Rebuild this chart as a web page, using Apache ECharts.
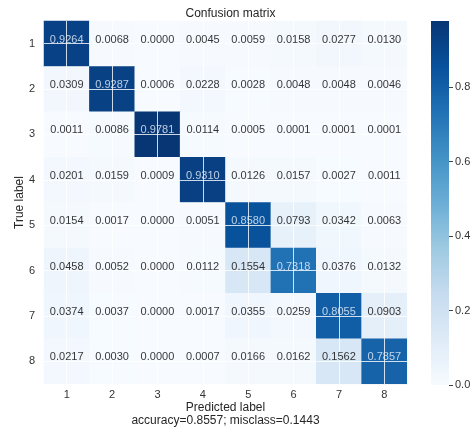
<!DOCTYPE html>
<html>
<head>
<meta charset="utf-8">
<script src="https://cdn.jsdelivr.net/npm/echarts@6/dist/echarts.min.js"></script>
<style>
  html, body { margin: 0; padding: 0; background: #fff; }
  #chart { width: 473px; height: 428px; }
</style>
</head>
<body>
<div id="chart"></div>
<script>
// class labels (predicted = x, true = y)
var categories = ["1", "2", "3", "4", "5", "6", "7", "8"];

// normalized confusion matrix rows (true label 1..8)
var row1 = [0.9264, 0.0068, 0.0000, 0.0045, 0.0059, 0.0158, 0.0277, 0.0130];
var row2 = [0.0309, 0.9287, 0.0006, 0.0228, 0.0028, 0.0048, 0.0048, 0.0046];
var row3 = [0.0011, 0.0086, 0.9781, 0.0114, 0.0005, 0.0001, 0.0001, 0.0001];
var row4 = [0.0201, 0.0159, 0.0009, 0.9310, 0.0126, 0.0157, 0.0027, 0.0011];
var row5 = [0.0154, 0.0017, 0.0000, 0.0051, 0.8580, 0.0793, 0.0342, 0.0063];
var row6 = [0.0458, 0.0052, 0.0000, 0.0112, 0.1554, 0.7318, 0.0376, 0.0132];
var row7 = [0.0374, 0.0037, 0.0000, 0.0017, 0.0355, 0.0259, 0.8055, 0.0903];
var row8 = [0.0217, 0.0030, 0.0000, 0.0007, 0.0166, 0.0162, 0.1562, 0.7857];
var rows = [row1, row2, row3, row4, row5, row6, row7, row8];

var colorbarTicks = [0, 0.2, 0.4, 0.6, 0.8];
var accuracy = 0.8557;
var misclass = 0.1443;

var blues = ["#f7fbff", "#deebf7", "#c6dbef", "#9ecae1", "#6baed6",
             "#4292c6", "#2171b5", "#08519c", "#083674"];
var font = "Liberation Sans, Arial, sans-serif";

var maxVal = 0, minVal = 0;
rows.forEach(function (r) {
  r.forEach(function (v) { if (v > maxVal) maxVal = v; });
});
var thresh = maxVal / 1.5;

var heatData = [];
var labelData = [];
rows.forEach(function (r, i) {
  r.forEach(function (v, j) {
    heatData.push([j, i, v]);
    labelData.push({
      value: [j, i, v],
      label: { color: v > thresh ? "#e8f0fa" : "#000000" }
    });
  });
});

// half-cell categories so grid lines can sit on the cell centres
var halfCats = [];
categories.forEach(function (c) { halfCats.push(c + "a", c + "b"); });

// colorbar gradient, bottom (min) to top (max)
var barStops = blues.map(function (c, i) {
  return { offset: i / (blues.length - 1), color: c };
});

var chart = echarts.init(document.getElementById("chart"));
var gridLine = { show: true, interval: function (idx) { return idx % 2 === 1; },
  lineStyle: { color: "#ffffff", width: 1, opacity: 0.8 } };

var option = {
  animation: false,
  textStyle: { fontFamily: font },
  title: {
    text: "Confusion matrix",
    left: 225.5, top: 3, textAlign: "center",
    textStyle: { fontSize: 12, fontWeight: "normal", color: "#262626", fontFamily: font }
  },
  grid: [
    { left: 44, top: 21, width: 363, height: 363, outerBoundsMode: "none" },
    { left: 431, top: 21, width: 18, height: 364, outerBoundsMode: "none" }
  ],
  xAxis: [
    {
      type: "category", gridIndex: 0, data: categories,
      axisLine: { show: false }, axisTick: { show: false }, splitLine: { show: false },
      axisLabel: { color: "#333", fontSize: 11, margin: 5, fontFamily: font },
      name: "Predicted label\naccuracy=" + accuracy.toFixed(4) + "; misclass=" + misclass.toFixed(4),
      nameLocation: "middle", nameGap: 17, nameMoveOverlap: false,
      nameTextStyle: { color: "#262626", fontSize: 12, lineHeight: 13, fontFamily: font }
    },
    {
      type: "category", gridIndex: 0, data: halfCats, z: 5,
      axisLine: { show: false }, axisTick: { show: false }, axisLabel: { show: false },
      splitLine: gridLine
    },
    { type: "category", gridIndex: 1, data: ["cb"], show: false }
  ],
  yAxis: [
    {
      type: "category", gridIndex: 0, data: categories, inverse: true,
      axisLine: { show: false }, axisTick: { show: false }, splitLine: { show: false },
      axisLabel: { color: "#333", fontSize: 11, margin: 9, fontFamily: font },
      name: "True label", nameLocation: "middle", nameGap: 18, nameMoveOverlap: false,
      nameTextStyle: { color: "#262626", fontSize: 12, fontFamily: font }
    },
    {
      type: "category", gridIndex: 0, data: halfCats, inverse: true, z: 5,
      axisLine: { show: false }, axisTick: { show: false }, axisLabel: { show: false },
      splitLine: gridLine
    },
    {
      type: "value", gridIndex: 1, position: "right", min: minVal, max: maxVal,
      interval: colorbarTicks[1] - colorbarTicks[0], z: 10,
      axisLine: { show: true, lineStyle: { color: "rgba(0,0,0,0)" } },
      splitLine: { show: false },
      axisTick: { show: true, length: 4, lineStyle: { color: "#444", width: 1 } },
      axisLabel: { show: true, margin: 6, showMaxLabel: false,
        color: "#333", fontSize: 11, fontFamily: font,
        formatter: function (v) { return v.toFixed(1); } }
    }
  ],
  visualMap: {
    type: "continuous", min: minVal, max: maxVal, seriesIndex: 0,
    show: false, inRange: { color: blues }
  },
  series: [
    {
      type: "heatmap", xAxisIndex: 0, yAxisIndex: 0, data: heatData, z: 2,
      itemStyle: { borderWidth: 0 },
      emphasis: { disabled: true }
    },
    {
      type: "scatter", xAxisIndex: 0, yAxisIndex: 0, data: labelData, z: 20,
      symbolSize: 0, silent: true,
      label: {
        show: true, position: "inside", fontSize: 11, fontFamily: font, offset: [0, -4],
        formatter: function (p) { return p.value[2].toFixed(4); }
      }
    },
    {
      // colorbar
      type: "bar", xAxisIndex: 2, yAxisIndex: 2, data: [maxVal],
      barWidth: "100%", silent: true,
      itemStyle: { color: new echarts.graphic.LinearGradient(0, 1, 0, 0, barStops) }
    }
  ]
};
chart.setOption(option);
window.addEventListener("resize", chart.resize);
</script>
</body>
</html>
